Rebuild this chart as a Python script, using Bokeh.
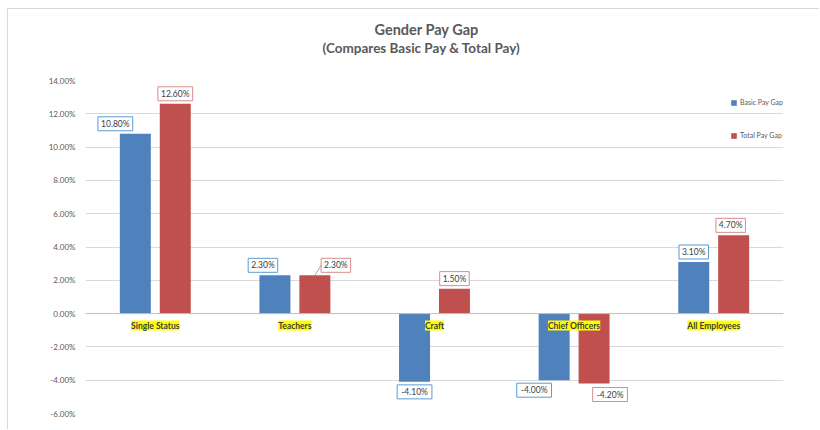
from bokeh.plotting import figure
from bokeh.models import (ColumnDataSource, Range1d, FactorRange, LabelSet, Title,
                          Legend, LegendItem, NumeralTickFormatter, FixedTicker, Span)
from bokeh.transform import dodge
from bokeh.core.properties import value
from bokeh.embed import file_html
from bokeh.resources import INLINE

# ---- data ----
categories = ["Single Status", "Teachers", "Craft", "Chief Officers", "All Employees"]
basic_pay_gap = [0.108, 0.023, -0.041, -0.040, 0.031]
total_pay_gap = [0.126, 0.023, 0.015, -0.042, 0.047]
y_ticks = [-0.06, -0.04, -0.02, 0.0, 0.02, 0.04, 0.06, 0.08, 0.10, 0.12, 0.14]
y_min, y_max = -0.06, 0.14

# label nudges (screen px) to mimic the reference's label placement
basic_label_dx = [-20, -12, 0, -20, 0]
total_label_dx = [0, 21, 0, 16, -3]
total_label_dy = [0, 0, 0, -1, 0]

FONT = "Lato"
TXT = "#595959"
BLUE = "#4f81bd"
RED = "#c0504d"

# ---- layout (pixels) ----
W, H = 812, 421
ML, MR, MT, MB = 77, 37, 71, 17
FW, FH = W - ML - MR, H - MT - MB
n = len(categories)
px_x = 1.0 / (FW / n)            # category units per pixel
px_y = (y_max - y_min) / FH      # data units per pixel


def fmt(v):
    return f"{v * 100:.2f}%"


off = 0.143
w = 0.222
LBL_GAP = 10   # px from bar end to label centre


def label_cols(vals, dx, dy, side):
    xs, ys, ws, txt = [], [], [], []
    for i, (c, v) in enumerate(zip(categories, vals)):
        t = fmt(v)
        s = 1 if v >= 0 else -1
        xs.append((c, side * off + dx[i] * px_x))
        ys.append(v + s * LBL_GAP * px_y + dy[i] * px_y)
        ws.append(5.3 * len(t) + 3)
        txt.append(t)
    return xs, ys, ws, txt


src = ColumnDataSource(dict(cat=categories, basic=basic_pay_gap, total=total_pay_gap,
                            zero=[0.0] * n))

p = figure(width=W, height=H, x_range=FactorRange(factors=categories, range_padding=0),
           y_range=Range1d(y_min, y_max), output_backend="svg", toolbar_location=None,
           min_border_left=ML, min_border_right=MR, min_border_top=MT, min_border_bottom=MB)
p.outline_line_color = None
p.background_fill_color = "white"
p.border_fill_color = "white"

r1 = p.vbar(x=dodge("cat", -off, range=p.x_range), top="basic", width=w, source=src,
            fill_color=BLUE, line_color=None)
r2 = p.vbar(x=dodge("cat", off, range=p.x_range), top="total", width=w, source=src,
            fill_color=RED, line_color=None)

p.add_layout(Span(location=0, dimension="width", line_color="#bfbfbf", line_width=1))

# axes
p.xaxis.visible = False
p.xgrid.visible = False
p.ygrid.grid_line_color = "#d9d9d9"
p.yaxis.ticker = FixedTicker(ticks=y_ticks)
p.yaxis.formatter = NumeralTickFormatter(format="0.00%")
p.yaxis.axis_line_color = None
p.yaxis.major_tick_line_color = None
p.yaxis.minor_tick_line_color = None
p.yaxis.major_label_text_font = FONT
p.yaxis.major_label_text_font_size = "8px"
p.yaxis.major_label_text_color = TXT
p.yaxis.major_label_standoff = 4

# data labels: boxes + text
for vals, dx, dy, side, bc in [(basic_pay_gap, basic_label_dx, [0] * n, -1, "#5b9bd5"),
                               (total_pay_gap, total_label_dx, total_label_dy, 1, "#d98c8a")]:
    xs, ys, ws, txt = label_cols(vals, dx, dy, side)
    ls = ColumnDataSource(dict(x=xs, y=ys, w=ws, t=txt))
    p.rect(x="x", y="y", width="w", height=14, width_units="screen", height_units="screen",
           source=ls, fill_color="white", line_color=bc, line_width=1)
    p.text(x="x", y="y", text="t", source=ls, text_align="center", text_baseline="middle",
           text_font=value(FONT), text_font_size="8.5px", text_color="#404040")

# leader line for the nudged Teachers total label
ti = 1
xs, ys, ws, txt = label_cols(total_pay_gap, total_label_dx, total_label_dy, 1)
p.segment(x0=[(categories[ti], off)], y0=[total_pay_gap[ti]],
          x1=[(categories[ti], xs[ti][1] - (ws[ti] / 2) * px_x)], y1=[ys[ti]],
          line_color="#a6a6a6", line_width=1)

# category labels highlighted
p.add_layout(LabelSet(x="cat", y="zero", text="cat", y_offset=-12, source=src,
                      text_align="center", text_baseline="middle",
                      text_font=value(FONT), text_font_size="8.5px", text_font_style="bold",
                      text_color="#404040", background_fill_color="#ffff00"))

# legend
legend = Legend(items=[LegendItem(label="Basic Pay Gap", renderers=[r1]),
                       LegendItem(label="Total Pay Gap", renderers=[r2])],
                location=(FW - 53, FH - 60), orientation="vertical", border_line_color=None,
                background_fill_alpha=0, label_text_font=FONT, label_text_font_size="7px",
                label_text_color=TXT, glyph_width=7, glyph_height=7, label_height=10,
                spacing=23, padding=0, margin=0, label_standoff=3)
p.add_layout(legend)

# titles (first added sits closest to the plot)
p.add_layout(Title(text=" ", text_font_size="21px", standoff=0), "above")
p.add_layout(Title(text="(Compares Basic Pay & Total Pay)", align="left", text_font=FONT,
                   text_font_size="13.5px", text_font_style="bold", text_color=TXT,
                   standoff=0, offset=237), "above")
p.add_layout(Title(text="Gender Pay Gap", align="left", text_font=FONT,
                   text_font_size="14.5px", text_font_style="bold", text_color=TXT,
                   standoff=0, offset=289), "above")

p.styles = {"margin-left": "7px", "margin-top": "8px",
            "border-left": "1px solid #d9d9d9", "border-top": "1px solid #d9d9d9"}

open("out.html", "w").write(file_html(p, INLINE))
